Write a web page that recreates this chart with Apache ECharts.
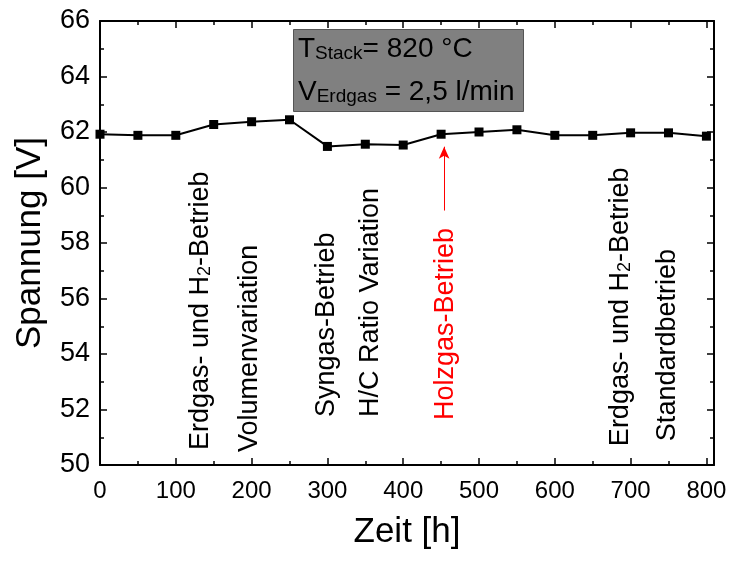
<!DOCTYPE html>
<html><head><meta charset="utf-8">
<script src="https://cdn.jsdelivr.net/npm/echarts@6/dist/echarts.min.js"></script>
<style>html,body{margin:0;padding:0;background:#fff}#c{width:731px;height:561px}</style>
</head><body><div id="c"></div>
<script>
// ---- data ----
const zeit = [0, 50, 100, 150, 200, 250, 300, 350, 400, 450, 500, 550, 600, 650, 700, 750, 800];
const spannung = [61.92, 61.88, 61.88, 62.27, 62.37, 62.44, 61.48, 61.56, 61.53, 61.92, 62.00, 62.08, 61.88, 61.88, 61.97, 61.97, 61.85];
const xTicks = [0, 100, 200, 300, 400, 500, 600, 700, 800];
const xMinorTicks = [50, 150, 250, 350, 450, 550, 650, 750];
const annotations = [
  { parts: ['Erdgas- und H', '2', '-Betrieb'], x: 131, y: 50.54, color: '#000000' },
  { parts: ['Volumenvariation'], x: 195, y: 50.47, color: '#000000' },
  { parts: ['Syngas-Betrieb'], x: 297, y: 51.73, color: '#000000' },
  { parts: ['H/C Ratio Variation'], x: 355, y: 51.73, color: '#000000' },
  { parts: ['Holzgas-Betrieb'], x: 454, y: 51.62, color: '#ff0000' },
  { parts: ['Erdgas- und H', '2', '-Betrieb'], x: 685, y: 50.68, color: '#000000' },
  { parts: ['Standardbetrieb'], x: 747, y: 50.86, color: '#000000' }
];
const arrowFrom = [454, 59.17];
const arrowTo = [454, 61.47];
const infoLines = [
  ['T', 'Stack', '= 820 °C'],
  ['V', 'Erdgas', ' = 2,5 l/min']
];

const FONT = '"Liberation Sans", Arial, sans-serif';
const chart = echarts.init(document.getElementById('c'), null, { renderer: 'canvas' });

function majorAxisCommon() {
  return {
    axisLine: { show: true, onZero: false, lineStyle: { color: '#000', width: 2 } },
    splitLine: { show: false }
  };
}

const option = {
  backgroundColor: '#ffffff',
  animation: false,
  grid: { left: 100, right: 17, top: 21, bottom: 96, containLabel: false },
  xAxis: [
    Object.assign(majorAxisCommon(), {
      type: 'value', min: 0, max: 810, position: 'bottom',
      name: 'Zeit [h]', nameLocation: 'middle', nameGap: 50,
      nameTextStyle: { fontSize: 35, fontFamily: FONT, color: '#000' },
      axisTick: { show: true, inside: true, length: 7, lineStyle: { width: 1.5, color: '#000' }, customValues: xTicks },
      axisLabel: { show: true, fontSize: 24, fontFamily: FONT, color: '#000', margin: 14, customValues: xTicks }
    }),
    { type: 'value', min: 0, max: 810, position: 'bottom', gridIndex: 0,
      axisLine: { show: false }, splitLine: { show: false }, axisLabel: { show: false },
      axisTick: { show: true, inside: true, length: 4, lineStyle: { width: 1.5, color: '#000' }, customValues: xMinorTicks } },
    Object.assign(majorAxisCommon(), {
      type: 'value', min: 0, max: 810, position: 'top',
      axisTick: { show: true, inside: true, length: 7, lineStyle: { width: 1.5, color: '#000' }, customValues: xTicks },
      axisLabel: { show: false }
    }),
    { type: 'value', min: 0, max: 810, position: 'top',
      axisLine: { show: false }, splitLine: { show: false }, axisLabel: { show: false },
      axisTick: { show: true, inside: true, length: 4, lineStyle: { width: 1.5, color: '#000' }, customValues: xMinorTicks } }
  ],
  yAxis: [
    Object.assign(majorAxisCommon(), {
      type: 'value', min: 50, max: 66, interval: 2, position: 'left',
      name: 'Spannung [V]', nameLocation: 'middle', nameGap: 52,
      nameTextStyle: { fontSize: 35, fontFamily: FONT, color: '#000' },
      axisTick: { show: true, inside: true, length: 7, lineStyle: { width: 1.5, color: '#000' } },
      minorTick: { show: true, splitNumber: 2, length: 4, lineStyle: { width: 1.5, color: '#000' } },
      axisLabel: { show: true, fontSize: 27, fontFamily: FONT, color: '#000', margin: 10 }
    }),
    Object.assign(majorAxisCommon(), {
      type: 'value', min: 50, max: 66, interval: 2, position: 'right',
      axisTick: { show: true, inside: true, length: 7, lineStyle: { width: 1.5, color: '#000' } },
      minorTick: { show: true, splitNumber: 2, length: 4, lineStyle: { width: 1.5, color: '#000' } },
      axisLabel: { show: false }
    })
  ],
  series: [{
    type: 'line',
    xAxisIndex: 0, yAxisIndex: 0,
    data: zeit.map((x, i) => [x, spannung[i]]),
    symbol: 'rect', symbolSize: 9,
    itemStyle: { color: '#000' },
    lineStyle: { color: '#000', width: 2 },
    markLine: {
      silent: true, animation: false,
      symbol: ['none', 'arrow'], symbolSize: [8, 12],
      label: { show: false },
      lineStyle: { color: '#ff0000', width: 1, type: 'solid' },
      data: [[{ coord: arrowFrom }, { coord: arrowTo }]]
    }
  }]
};
chart.setOption(option);

const graphics = [];
annotations.forEach(a => {
  const p = chart.convertToPixel({ gridIndex: 0 }, [a.x, a.y]);
  let text;
  if (a.parts.length === 3) text = '{n|' + a.parts[0] + '}{s|' + a.parts[1] + '}{n|' + a.parts[2] + '}';
  else text = '{n|' + a.parts[0] + '}';
  graphics.push({
    type: 'text', x: p[0], y: p[1], rotation: Math.PI / 2, z: 10,
    style: {
      text: text, align: 'left', verticalAlign: 'middle',
      rich: {
        n: { fontSize: 27, fontFamily: FONT, fill: a.color, color: a.color, lineHeight: 30, verticalAlign: 'bottom' },
        s: { fontSize: 18, fontFamily: FONT, fill: a.color, color: a.color, lineHeight: 12, verticalAlign: 'bottom' }
      }
    }
  });
});
// info box
graphics.push({
  type: 'rect', z: 8,
  shape: { x: 293.5, y: 29.5, width: 230, height: 82 },
  style: { fill: '#808080', stroke: '#555555', lineWidth: 1 }
});
const lineTops = [31, 74];
infoLines.forEach((ln, i) => {
  graphics.push({
    type: 'text', x: 298, y: lineTops[i], z: 10,
    style: {
      text: '{n|' + ln[0] + '}{s|' + ln[1] + '}{n|' + ln[2] + '}',
      align: 'left', verticalAlign: 'top',
      rich: {
        n: { fontSize: 28, fontFamily: FONT, fill: '#000', color: '#000', lineHeight: 32, verticalAlign: 'bottom' },
        s: { fontSize: 19, fontFamily: FONT, fill: '#000', color: '#000', lineHeight: 10, verticalAlign: 'bottom' }
      }
    }
  });
});
chart.setOption({ graphic: graphics });
</script>
</body></html>
